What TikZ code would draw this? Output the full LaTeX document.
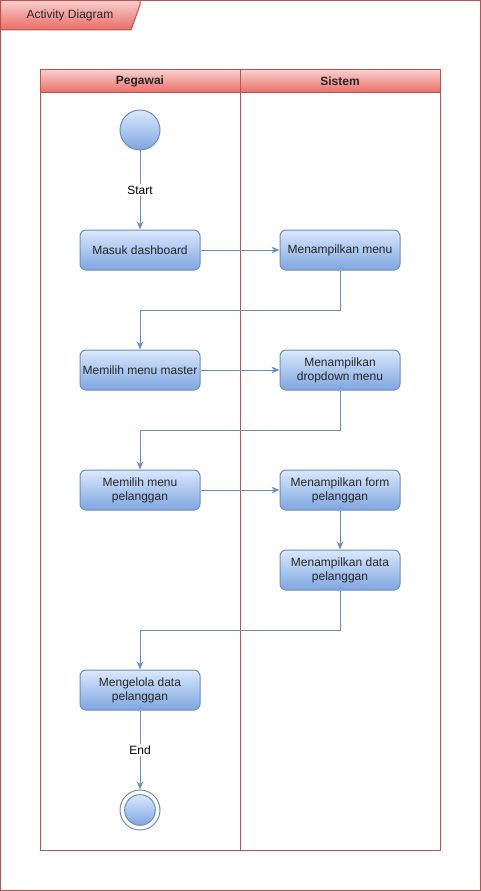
\documentclass[tikz,border=0pt]{standalone}
\usepackage{fontspec}
\setmainfont{Liberation Sans}
\usetikzlibrary{arrows.meta,shapes.geometric}
\definecolor{redline}{HTML}{B85450}
\definecolor{redtop}{HTML}{F8CECC}
\definecolor{redbot}{HTML}{EA6B66}
\definecolor{bluetop}{HTML}{DAE8FC}
\definecolor{bluebot}{HTML}{7EA6E0}
\definecolor{blueline}{HTML}{6C8EBF}
\begin{document}
\begin{tikzpicture}[x=0.75pt,y=-0.75pt,
  font=\fontsize{9}{10.5}\selectfont,
  act/.style={draw=blueline,line width=0.75pt,rounded corners=4.5pt,top color=bluetop,bottom color=bluebot,
    minimum width=90pt,minimum height=30pt,align=center,inner sep=1pt,text=black!85},
  initnode/.style={circle,draw=blueline,line width=0.75pt,top color=bluetop,bottom color=bluebot,minimum size=30pt,inner sep=0pt},
  finalouter/.style={circle,draw=blueline,line width=0.75pt,fill=white,minimum size=30pt,inner sep=0pt},
  finalinner/.style={circle,draw=blueline,line width=0.75pt,top color=bluetop,bottom color=bluebot,minimum size=23pt,inner sep=0pt},
  edge/.style={draw=blueline,line width=0.75pt,-{Stealth[length=6pt,width=5pt,inset=1.8pt]}},
  lbl/.style={fill=white,inner sep=1.5pt,text=black},
  frameline/.style={draw=redline,line width=0.75pt},
  hdr/.style={frameline,top color=redtop,bottom color=redbot}]
\useasboundingbox (0,0) rectangle (481,891);
% outer frame
\draw[frameline] (0.5,0.5) rectangle (480.5,850+40.5);
\draw[hdr] (0.5,0.5) -- (140,0.5) -- (140,5) -- (131,30) -- (0.5,30) -- cycle;
\node[text=black!85] (title) at (70,15) {Activity Diagram};
% pool
\draw[hdr] (40,70) rectangle (240,93);
\draw[hdr] (240,70) rectangle (440,93);
\draw[frameline] (40,70) rectangle (440,850);
\draw[frameline] (240,70) -- (240,850);
\node[font=\fontsize{9}{10.5}\selectfont\bfseries,text=black!85] (lane1) at (140,81.5) {Pegawai};
\node[font=\fontsize{9}{10.5}\selectfont\bfseries,text=black!85] (lane2) at (340,81.5) {Sistem};
% nodes
\node[initnode] (start) at (140,130) {};
\node[act] (b1) at (140,250) {Masuk dashboard};
\node[act] (b2) at (340,250) {Menampilkan menu};
\node[act] (b3) at (140,370) {Memilih menu master};
\node[act] (b4) at (340,370) {Menampilkan\\dropdown menu};
\node[act] (b5) at (140,490) {Memilih menu\\pelanggan};
\node[act] (b6) at (340,490) {Menampilkan form\\pelanggan};
\node[act] (b7) at (340,570) {Menampilkan data\\pelanggan};
\node[act] (b8) at (140,690) {Mengelola data\\pelanggan};
\node[finalouter] (endo) at (140,810) {};
\node[finalinner] (endi) at (140,810) {};
% edges
\draw[edge] (start) -- node[lbl] {Start} (b1);
\draw[edge] (b1) -- (b2);
\draw[edge] (b2.south) -- ++(0,40) -| (b3.north);
\draw[edge] (b3) -- (b4);
\draw[edge] (b4.south) -- ++(0,40) -| (b5.north);
\draw[edge] (b5) -- (b6);
\draw[edge] (b6) -- (b7);
\draw[edge] (b7.south) -- ++(0,40) -| (b8.north);
\draw[edge] (b8) -- node[lbl] {End} (endo);
\end{tikzpicture}
\end{document}
